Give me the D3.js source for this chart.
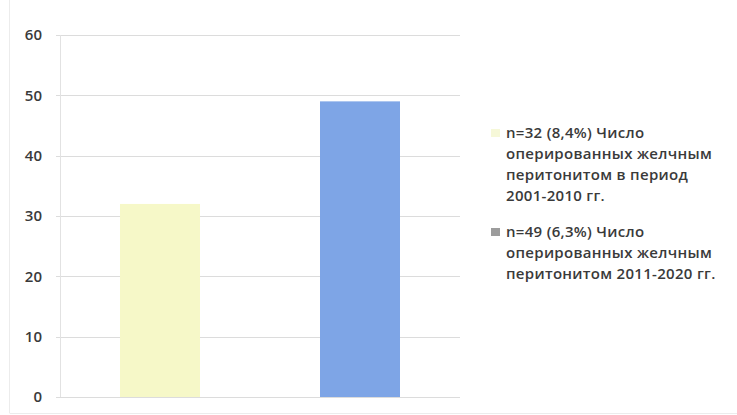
<!DOCTYPE html>
<html>
<head>
<meta charset="utf-8">
<script src="https://cdn.jsdelivr.net/npm/d3@7"></script>
<style>
  html, body { margin: 0; padding: 0; background: #fff; }
  svg { display: block; }
</style>
</head>
<body>
<svg id="chart" width="737" height="415"></svg>
<script>
// Operated patients with biliary peritonitis, by decade
const categories = ["2001-2010", "2011-2020"];
const values = [32, 49];
const colors = ["#f6f8c8", "#7ea5e6"];
const markerColors = ["#f6f8d8", "#9c9c9c"];
const yTicks = [0, 10, 20, 30, 40, 50, 60];
const legendLines = [
  ["n=32 (8,4%) Число", "оперированных желчным", "перитонитом в период", "2001-2010 гг."],
  ["n=49 (6,3%) Число", "оперированных желчным", "перитонитом 2011-2020 гг."]
];

const svg = d3.select("#chart");
const margin = { left: 60, right: 277, top: 35, bottom: 18 };
const W = 737, H = 415;
const font = "'Open Sans', sans-serif";

// faint outer frame
svg.append("line").attr("x1", 9.5).attr("x2", 9.5).attr("y1", 0).attr("y2", 413)
  .attr("stroke", "#ececec");
svg.append("line").attr("x1", 9.5).attr("x2", 737).attr("y1", 413.5).attr("y2", 413.5)
  .attr("stroke", "#ececec");

const x = d3.scaleBand().domain(categories)
  .range([margin.left, W - margin.right]).paddingInner(0.6).paddingOuter(0.3);
const y = d3.scaleLinear().domain([0, 60]).range([397, 35]);

// gridlines
svg.append("g").selectAll("line").data(yTicks).join("line")
  .attr("x1", 56).attr("x2", 460)
  .attr("y1", d => Math.round(y(d)) + 0.5).attr("y2", d => Math.round(y(d)) + 0.5)
  .attr("stroke", "#dcdcdc").attr("stroke-width", 1);

// vertical axis line
svg.append("line").attr("x1", 60.5).attr("x2", 60.5).attr("y1", y(60)).attr("y2", y(0))
  .attr("stroke", "#e2e2e2");

// y tick labels
const yAxis = d3.axisLeft(y).tickValues(yTicks).tickSize(0).tickPadding(0);
const ga = svg.append("g").attr("transform", "translate(42,0)").call(yAxis);
ga.select(".domain").remove();
ga.selectAll("text").attr("font-family", font).attr("font-weight", 600)
  .attr("font-size", "15px").attr("fill", "#3a3a3a");

// bars
svg.append("g").selectAll("rect").data(values).join("rect")
  .attr("x", (d, i) => x(categories[i]))
  .attr("width", x.bandwidth())
  .attr("y", d => y(d))
  .attr("height", d => y(0) - y(d))
  .attr("fill", (d, i) => colors[i]);

// legend
const legendTop = [133, 232];
const lg = svg.append("g");
legendLines.forEach((lines, i) => {
  lg.append("rect").attr("x", 491).attr("y", legendTop[i] - 4).attr("width", 9).attr("height", 8)
    .attr("fill", markerColors[i]);
  lines.forEach((t, j) => {
    lg.append("text").attr("x", 506).attr("y", legendTop[i] + j * 20.8)
      .attr("dy", "0.35em")
      .attr("font-family", font).attr("font-size", "15px").attr("font-weight", 600)
      .attr("letter-spacing", "0.3px")
      .attr("fill", "#3a3a3a").text(t);
  });
});
</script>
</body>
</html>
